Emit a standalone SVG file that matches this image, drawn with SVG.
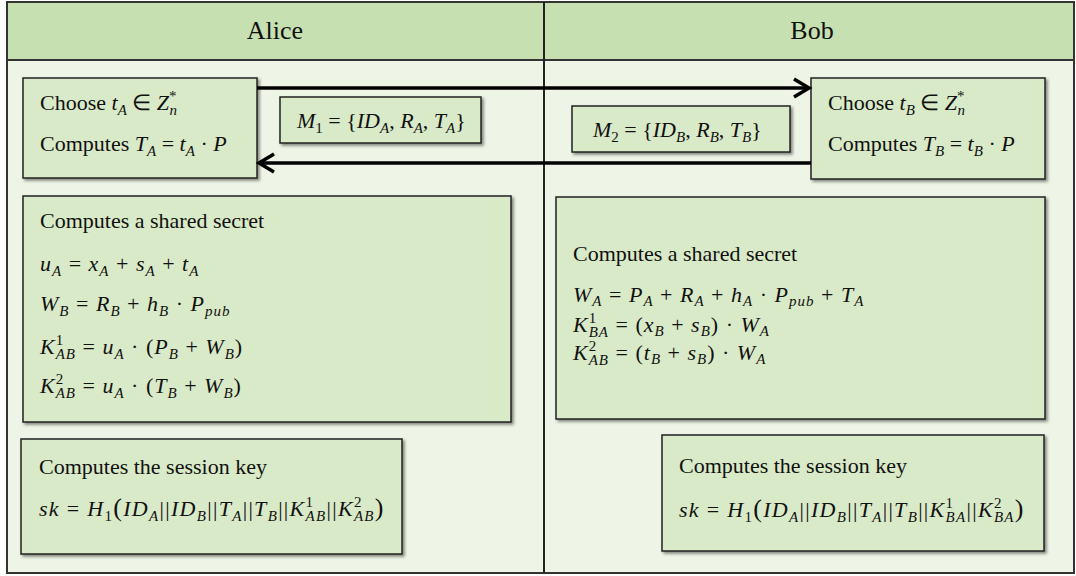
<svg xmlns="http://www.w3.org/2000/svg" width="1076" height="576" viewBox="0 0 1076 576">
<defs>
<style>
.t{font-family:"Liberation Serif","Times New Roman",serif;font-size:22px;fill:#111}
.h{font-family:"Liberation Serif","Times New Roman",serif;font-size:26px;fill:#111}
.i{font-style:italic}
.sb{font-size:15px}
.mw{letter-spacing:1px}
.sw{letter-spacing:1.3px}
.bp{font-size:26px}
.box{fill:#d9eac8;stroke:#222;stroke-width:1.5;filter:url(#sh)}
.ln{fill:none;stroke:#000;stroke-width:3.5}
</style>
<filter id="sh" x="-5%" y="-5%" width="115%" height="120%">
<feDropShadow dx="2" dy="2" stdDeviation="1.5" flood-color="#000" flood-opacity="0.45"/>
</filter>
<marker id="ah" viewBox="-18 -12 22 24" markerWidth="22" markerHeight="24" refX="0" refY="0" orient="auto" markerUnits="userSpaceOnUse">
<path d="M-15,-9 L0,0 L-15,9" fill="none" stroke="#000" stroke-width="3.5"/>
</marker>
</defs>

<g id="frame">
<rect x="7" y="2" width="1067" height="571" fill="#eef4e6" stroke="#333" stroke-width="2"/>
<rect x="7" y="2" width="1067" height="58" fill="#c7e0b1" stroke="#333" stroke-width="2"/>
<line x1="544" y1="2" x2="544" y2="573" stroke="#222" stroke-width="2"/>
</g>

<g id="header-alice"><text class="h" x="275" y="39" text-anchor="middle">Alice</text></g>
<g id="header-bob"><text class="h" x="812" y="39" text-anchor="middle">Bob</text></g>

<g id="alice-choose">
<rect class="box" x="23" y="78" width="234" height="100"/>
<text class="t" x="40" y="110">Choose <tspan class="i">t</tspan><tspan class="sb i" dy="5">A</tspan><tspan dy="-5"> ∈ </tspan><tspan class="i">Z</tspan><tspan class="sb" dy="-9">*</tspan><tspan class="sb i" dx="-7" dy="14">n</tspan></text>
<text class="t" x="40" y="151">Computes <tspan class="i">T</tspan><tspan class="sb i" dy="5">A</tspan><tspan dy="-5"> = </tspan><tspan class="i">t</tspan><tspan class="sb i" dy="5">A</tspan><tspan dy="-5"> · </tspan><tspan class="i">P</tspan></text>
</g>

<g id="msg-m1">
<rect class="box" x="280" y="97" width="201" height="46"/>
<text class="t" x="297" y="128"><tspan class="i">M</tspan><tspan class="sb" dy="5">1</tspan><tspan dy="-5"> = {</tspan><tspan class="i">ID</tspan><tspan class="sb i" dy="5">A</tspan><tspan dy="-5">, </tspan><tspan class="i">R</tspan><tspan class="sb i" dy="5">A</tspan><tspan dy="-5">, </tspan><tspan class="i">T</tspan><tspan class="sb i" dy="5">A</tspan><tspan dy="-5">}</tspan></text>
</g>

<g id="msg-m2">
<rect class="box" x="572" y="106" width="218" height="46"/>
<text class="t" x="593" y="137"><tspan class="i">M</tspan><tspan class="sb" dy="5">2</tspan><tspan dy="-5"> = {</tspan><tspan class="i">ID</tspan><tspan class="sb i" dy="5">B</tspan><tspan dy="-5">,  </tspan><tspan class="i">R</tspan><tspan class="sb i" dy="5">B</tspan><tspan dy="-5">, </tspan><tspan class="i">T</tspan><tspan class="sb i" dy="5">B</tspan><tspan dy="-5">}</tspan></text>
</g>

<g id="bob-choose">
<rect class="box" x="811" y="78" width="234" height="101"/>
<text class="t" x="828" y="110">Choose <tspan class="i">t</tspan><tspan class="sb i" dy="5">B</tspan><tspan dy="-5"> ∈ </tspan><tspan class="i">Z</tspan><tspan class="sb" dy="-9">*</tspan><tspan class="sb i" dx="-7" dy="14">n</tspan></text>
<text class="t" x="828" y="151">Computes <tspan class="i">T</tspan><tspan class="sb i" dy="5">B</tspan><tspan dy="-5"> = </tspan><tspan class="i">t</tspan><tspan class="sb i" dy="5">B</tspan><tspan dy="-5"> · </tspan><tspan class="i">P</tspan></text>
</g>

<g id="alice-secret">
<rect class="box" x="23" y="196" width="488" height="226"/>
<text class="t" x="40" y="228">Computes a shared secret</text>
<text class="t mw" x="40" y="271"><tspan class="i">u</tspan><tspan class="sb i" dy="5">A</tspan><tspan dy="-5"> = </tspan><tspan class="i">x</tspan><tspan class="sb i" dy="5">A</tspan><tspan dy="-5"> + </tspan><tspan class="i">s</tspan><tspan class="sb i" dy="5">A</tspan><tspan dy="-5"> + </tspan><tspan class="i">t</tspan><tspan class="sb i" dy="5">A</tspan></text>
<text class="t mw" x="40" y="311"><tspan class="i">W</tspan><tspan class="sb i" dy="5">B</tspan><tspan dy="-5"> = </tspan><tspan class="i">R</tspan><tspan class="sb i" dy="5">B</tspan><tspan dy="-5"> + </tspan><tspan class="i">h</tspan><tspan class="sb i" dy="5">B</tspan><tspan dy="-5"> · </tspan><tspan class="i">P</tspan><tspan class="sb i" dy="5">pub</tspan></text>
<text class="t mw" x="40" y="354"><tspan class="i">K</tspan><tspan class="sb" dy="-9">1</tspan><tspan class="sb i" dx="-8.5" dy="14">AB</tspan><tspan dy="-5"> = </tspan><tspan class="i">u</tspan><tspan class="sb i" dy="5">A</tspan><tspan dy="-5"> · (</tspan><tspan class="i">P</tspan><tspan class="sb i" dy="5">B</tspan><tspan dy="-5"> + </tspan><tspan class="i">W</tspan><tspan class="sb i" dy="5">B</tspan><tspan dy="-5">)</tspan></text>
<text class="t mw" x="40" y="393"><tspan class="i">K</tspan><tspan class="sb" dy="-9">2</tspan><tspan class="sb i" dx="-8.5" dy="14">AB</tspan><tspan dy="-5"> = </tspan><tspan class="i">u</tspan><tspan class="sb i" dy="5">A</tspan><tspan dy="-5"> · (</tspan><tspan class="i">T</tspan><tspan class="sb i" dy="5">B</tspan><tspan dy="-5"> + </tspan><tspan class="i">W</tspan><tspan class="sb i" dy="5">B</tspan><tspan dy="-5">)</tspan></text>
</g>

<g id="bob-secret">
<rect class="box" x="556" y="197" width="489" height="222"/>
<text class="t" x="573" y="261">Computes a shared secret</text>
<text class="t mw"><tspan x="573" y="302" class="i">W</tspan><tspan class="sb i" dy="4">A</tspan><tspan dy="-4"> = </tspan><tspan class="i">P</tspan><tspan class="sb i" dy="4">A</tspan><tspan dy="-4"> + </tspan><tspan class="i">R</tspan><tspan class="sb i" dy="4">A</tspan><tspan dy="-4"> + </tspan><tspan class="i">h</tspan><tspan class="sb i" dy="4">A</tspan><tspan dy="-4"> · </tspan><tspan class="i">P</tspan><tspan class="sb i" dy="4">pub</tspan><tspan dy="-4"> + </tspan><tspan class="i">T</tspan><tspan class="sb i" dy="4">A</tspan><tspan x="573" y="332" class="i">K</tspan><tspan class="sb" dy="-9">1</tspan><tspan class="sb i" dx="-8.5" dy="14">BA</tspan><tspan dy="-5"> = (</tspan><tspan class="i">x</tspan><tspan class="sb i" dy="4">B</tspan><tspan dy="-4"> + </tspan><tspan class="i">s</tspan><tspan class="sb i" dy="4">B</tspan><tspan dy="-4">) · </tspan><tspan class="i">W</tspan><tspan class="sb i" dy="4">A</tspan><tspan x="573" y="360" class="i">K</tspan><tspan class="sb" dy="-9">2</tspan><tspan class="sb i" dx="-8.5" dy="14">AB</tspan><tspan dy="-5"> = (</tspan><tspan class="i">t</tspan><tspan class="sb i" dy="4">B</tspan><tspan dy="-4"> + </tspan><tspan class="i">s</tspan><tspan class="sb i" dy="4">B</tspan><tspan dy="-4">) · </tspan><tspan class="i">W</tspan><tspan class="sb i" dy="4">A</tspan></text>
</g>

<g id="alice-session">
<rect class="box" x="21" y="439" width="381" height="115"/>
<text class="t" x="39" y="474">Computes the session key</text>
<text class="t sw" x="39" y="516"><tspan class="i">sk</tspan><tspan> = </tspan><tspan class="i">H</tspan><tspan class="sb" dy="5">1</tspan><tspan class="bp" dy="-5">(</tspan><tspan class="i">ID</tspan><tspan class="sb i" dy="5">A</tspan><tspan dy="-5">||</tspan><tspan class="i">ID</tspan><tspan class="sb i" dy="5">B</tspan><tspan dy="-5">||</tspan><tspan class="i">T</tspan><tspan class="sb i" dy="5">A</tspan><tspan dy="-5">||</tspan><tspan class="i">T</tspan><tspan class="sb i" dy="5">B</tspan><tspan dy="-5">||</tspan><tspan class="i">K</tspan><tspan class="sb" dy="-9">1</tspan><tspan class="sb i" dx="-8.8" dy="14">AB</tspan><tspan dy="-5">||</tspan><tspan class="i">K</tspan><tspan class="sb" dy="-9">2</tspan><tspan class="sb i" dx="-8.8" dy="14">AB</tspan><tspan class="bp" dy="-5">)</tspan></text>
</g>

<g id="bob-session">
<rect class="box" x="662" y="435" width="382" height="116"/>
<text class="t" x="679" y="473">Computes the session key</text>
<text class="t sw" x="679" y="517"><tspan class="i">sk</tspan><tspan> = </tspan><tspan class="i">H</tspan><tspan class="sb" dy="5">1</tspan><tspan class="bp" dy="-5">(</tspan><tspan class="i">ID</tspan><tspan class="sb i" dy="5">A</tspan><tspan dy="-5">||</tspan><tspan class="i">ID</tspan><tspan class="sb i" dy="5">B</tspan><tspan dy="-5">||</tspan><tspan class="i">T</tspan><tspan class="sb i" dy="5">A</tspan><tspan dy="-5">||</tspan><tspan class="i">T</tspan><tspan class="sb i" dy="5">B</tspan><tspan dy="-5">||</tspan><tspan class="i">K</tspan><tspan class="sb" dy="-9">1</tspan><tspan class="sb i" dx="-8.8" dy="14">BA</tspan><tspan dy="-5">||</tspan><tspan class="i">K</tspan><tspan class="sb" dy="-9">2</tspan><tspan class="sb i" dx="-8.8" dy="14">BA</tspan><tspan class="bp" dy="-5">)</tspan></text>
</g>

<g id="connectors">
<line class="ln" x1="257" y1="88" x2="809" y2="88" marker-end="url(#ah)"/>
<line class="ln" x1="811" y1="163" x2="259" y2="163" marker-end="url(#ah)"/>
</g>
</svg>
